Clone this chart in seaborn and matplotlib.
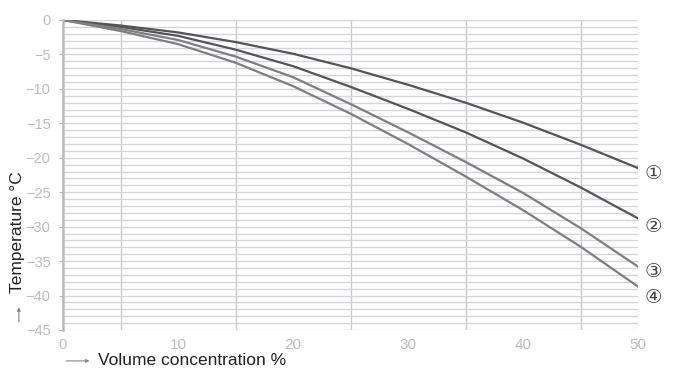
import pandas as pd
import matplotlib.pyplot as plt
import seaborn as sns

# Values
concentration = [0, 5, 10, 15, 20, 25, 30, 35, 40, 45, 50]
curve_1 = [0, -0.8, -1.8, -3.2, -4.9, -7.0, -9.4, -12.0, -14.9, -18.1, -21.5]
curve_2 = [0, -1.0, -2.3, -4.3, -6.7, -9.7, -12.9, -16.3, -20.1, -24.3, -28.8]
curve_3 = [0, -1.3, -2.9, -5.3, -8.3, -12.2, -16.3, -20.6, -25.1, -30.2, -35.8]
curve_4 = [0, -1.6, -3.5, -6.2, -9.6, -13.6, -18.0, -22.7, -27.6, -32.9, -38.7]
curve_names = ['1', '2', '3', '4']
curve_marks = ['\u2460', '\u2461', '\u2462', '\u2463']
mark_y = [-22.3, -30.0, -36.5, -40.3]

df = pd.DataFrame({
    'conc': concentration * 4,
    'temp': curve_1 + curve_2 + curve_3 + curve_4,
    'curve': [n for n in curve_names for _ in concentration],
})

sns.set_style('white')
plt.rcParams['font.family'] = ['Liberation Sans', 'DejaVu Sans']

fig = plt.figure(figsize=(6.74, 3.69), dpi=100)
ax = fig.add_axes([0.0935, 0.1057, 0.8531, 0.8401])

palette = {'1': '#555558', '2': '#555558', '3': '#7f7f82', '4': '#7f7f82'}
sns.lineplot(data=df, x='conc', y='temp', hue='curve', palette=palette,
             linewidth=1.6, legend=False, ax=ax)

ax.set_xlim(0, 50)
ax.set_ylim(-45, 0)
ax.set_xticks(range(0, 51, 10))
ax.set_xticks(range(0, 51, 5), minor=True)
ax.set_yticks(range(-45, 1, 5))
ax.set_yticks(range(-45, 1, 1), minor=True)

ax.grid(True, which='both', axis='y', color='#d6d6da', linewidth=1.0)
ax.grid(True, which='minor', axis='x', color='#c8c8cd', linewidth=1.0)
ax.set_axisbelow(True)

for s in ['top', 'right', 'bottom']:
    ax.spines[s].set_visible(False)
ax.spines['left'].set_color('#b8b8be')
ax.spines['left'].set_linewidth(1.8)

ax.tick_params(axis='y', which='major', left=True, length=3, color='#b8b8be',
               labelcolor='#bdbdc0', labelsize=10.5, pad=6)
ax.tick_params(axis='y', which='minor', left=False)
ax.tick_params(axis='x', which='both', bottom=False, labelcolor='#bdbdc0',
               labelsize=11, pad=2)
ax.set_xlabel('')
ax.set_ylabel('')

for mark, y in zip(curve_marks, mark_y):
    ax.text(51.3, y, mark, fontsize=14, color='#444444', ha='center', va='center',
            family=['DejaVu Sans'], clip_on=False)

# axis titles with small arrows
fig.text(0.145, 0.024, 'Volume concentration %', fontsize=12.5, color='#222222',
         ha='left', va='center')
fig.text(0.026, 0.371, 'Temperature \u00b0C', fontsize=12.5, color='#222222',
         ha='center', va='center', rotation=90)
fig.add_artist(plt.matplotlib.patches.FancyArrowPatch(
    (0.094, 0.022), (0.137, 0.022), transform=fig.transFigure,
    arrowstyle='-|>', mutation_scale=5, color='#888888', linewidth=0.8))
fig.add_artist(plt.matplotlib.patches.FancyArrowPatch(
    (0.028, 0.12), (0.028, 0.175), transform=fig.transFigure,
    arrowstyle='-|>', mutation_scale=5, color='#888888', linewidth=0.8))

plt.savefig('out.png', dpi=100)
